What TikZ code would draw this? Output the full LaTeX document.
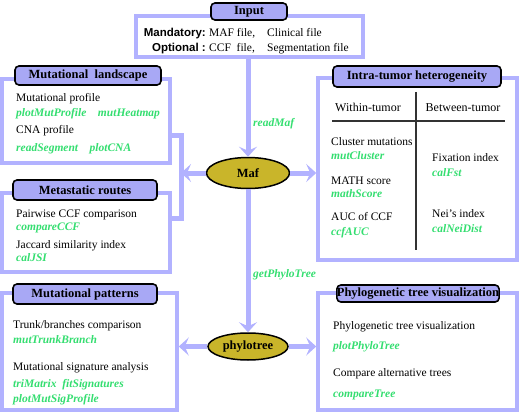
\documentclass[tikz,border=0pt]{standalone}
\usepackage{fontspec}
\setmainfont{Liberation Serif}
\newfontfamily\keyfont{Liberation Sans}
\usetikzlibrary{arrows.meta,shapes.geometric}

\definecolor{framecol}{RGB}{178,178,255}
\definecolor{titlecol}{RGB}{168,168,245}
\definecolor{fncol}{RGB}{52,222,112}
\definecolor{mafcol}{RGB}{201,181,42}

\begin{document}
\begin{tikzpicture}[x=1pt, y=-1pt,
	every node/.style={font=\fontsize{11.5}{13}\selectfont, inner sep=0pt},
	panel/.style 2 args={rectangle, draw=framecol, line width=3.5pt, fill=white, minimum width=#1, minimum height=#2},
	heading/.style 2 args={rectangle, rounded corners=4pt, draw=black, line width=1.6pt, fill=titlecol, minimum width=#1, minimum height=#2, font=\fontsize{12.5}{14}\selectfont\bfseries},
	blob/.style 2 args={ellipse, draw=black, line width=1.5pt, fill=mafcol, minimum width=#1, minimum height=#2, font=\fontsize{12.5}{14}\selectfont\bfseries},
	txt/.style={anchor=base west},
	fn/.style={anchor=base west, text=fncol, font=\fontsize{11.5}{13}\selectfont\bfseries\itshape},
	link/.style={draw=framecol, line width=5pt},
	flow/.style={link, -{Stealth[length=10pt, width=18pt, inset=4pt]}},
	rule/.style={draw=black!80, line width=1.6pt}]
	\useasboundingbox (0,0) rectangle (520,412);
	
	% Panels
	\node[panel={227}{41}] (inbox) at (249.5,36.5) {};
	\node[panel={168}{84}] (landbox) at (86,121) {};
	\node[panel={168}{79}] (metabox) at (86,232.5) {};
	\node[panel={175}{117}] (pattbox) at (89.5,351.5) {};
	\node[panel={199}{182}] (ithbox) at (417.5,169) {};
	\node[panel={199}{117}] (treebox) at (417.5,351.5) {};
	
	% Panel titles
	\node[heading={76}{17}] (intitle) at (249,11.5) {Input};
	\node[heading={146}{19}] (landtitle) at (88,75.5) {Mutational\ \ landscape};
	\node[heading={144}{20}] (metatitle) at (85,190) {Metastatic routes};
	\node[heading={144}{20}] (patttitle) at (85,294) {Mutational patterns};
	\node[heading={168}{21}] (ithtitle) at (417,76.5) {Intra-tumor heterogeneity};
	\node[heading={162}{17}] (treetitle) at (418,293.5) {Phylogenetic tree visualization};
	
	% Data objects
	\node[blob={83}{31}] (maf) at (248,173) {Maf};
	\node[blob={80}{27}] (phylo) at (248,346.5) {phylotree};
	
	% Input files
	\node[anchor=base east, font=\fontsize{11.5}{13}\selectfont\keyfont\bfseries] (mandkey) at (206,37) {Mandatory:};
	\node[anchor=base east, font=\fontsize{11.5}{13}\selectfont\keyfont\bfseries] (optkey) at (206,52) {Optional\ :};
	\node[txt] (maffile) at (209,37) {MAF file,};
	\node[txt] (clinfile) at (267,37) {Clinical file};
	\node[txt] (ccffile) at (209,52) {CCF\ \ file,};
	\node[txt] (segfile) at (267,52) {Segmentation file};
	
	% Mutational landscape
	\node[txt] (landa) at (16,102) {Mutational profile};
	\node[fn] (landb) at (16,117) {plotMutProfile\quad mutHeatmap};
	\node[txt] (landc) at (16,134) {CNA profile};
	\node[fn] (landd) at (16,151) {readSegment\quad plotCNA};
	
	% Metastatic routes
	\node[txt] (metaa) at (16,217) {Pairwise CCF comparison};
	\node[fn] (metab) at (16,230) {compareCCF};
	\node[txt] (metac) at (16,248) {Jaccard similarity index};
	\node[fn] (metad) at (16,261) {calJSI};
	
	% Mutational patterns
	\node[txt] (patta) at (13,328) {Trunk/branches comparison};
	\node[fn] (pattb) at (13,343) {mutTrunkBranch};
	\node[txt] (pattc) at (13,370) {Mutational signature analysis};
	\node[fn] (pattd) at (13,387) {triMatrix\enspace fitSignatures};
	\node[fn] (patte) at (13,402) {plotMutSigProfile};
	
	% Intra-tumor heterogeneity
	\node[anchor=base, font=\fontsize{12}{14}\selectfont] (within) at (368,112) {Within-tumor};
	\node[anchor=base, font=\fontsize{12}{14}\selectfont] (between) at (463,112) {Between-tumor};
	\coordinate (hl) at (332,121);
	\coordinate (hr) at (505,121);
	\coordinate (vt) at (416,92);
	\coordinate (vb) at (416,250);
	\draw[rule] (hl) -- (hr);
	\draw[rule] (vt) -- (vb);
	\node[txt] (itha) at (331,146) {Cluster mutations};
	\node[fn] (ithb) at (331,159) {mutCluster};
	\node[txt] (ithc) at (331,184) {MATH score};
	\node[fn] (ithd) at (331,197) {mathScore};
	\node[txt] (ithe) at (331,220) {AUC of CCF};
	\node[fn] (ithf) at (331,235) {ccfAUC};
	\node[txt] (ithg) at (432,161) {Fixation index};
	\node[fn] (ithh) at (432,176) {calFst};
	\node[txt] (ithi) at (432,217) {Nei’s index};
	\node[fn] (ithj) at (432,232) {calNeiDist};
	
	% Phylogenetic tree visualization
	\node[txt] (treea) at (333,329) {Phylogenetic tree visualization};
	\node[fn] (treeb) at (333,349) {plotPhyloTree};
	\node[txt] (treec) at (333,376) {Compare alternative trees};
	\node[fn] (treed) at (333,397) {compareTree};
	
	% Flow
	\coordinate (brktop) at (181,135);
	\coordinate (brkmid) at (181,173);
	\coordinate (brkbot) at (181,218);
	\draw[link] (landbox.east |- brktop) -- (brktop) -- (brkbot) -- (metabox.east |- brkbot);
	\draw[flow] (maf |- inbox.south) -- (maf.north);
	\draw[flow] (maf.west) -- (brkmid);
	\draw[flow] (maf.east) -- (ithbox.west |- maf);
	\draw[flow] (maf.south) -- (phylo.north);
	\draw[flow] (phylo.west) -- (pattbox.east |- phylo);
	\draw[flow] (phylo.east) -- (treebox.west |- phylo);
	\node[fn] (readlbl) at (253,126) {readMaf};
	\node[fn] (treelbl) at (253,277) {getPhyloTree};
\end{tikzpicture}
\end{document}
